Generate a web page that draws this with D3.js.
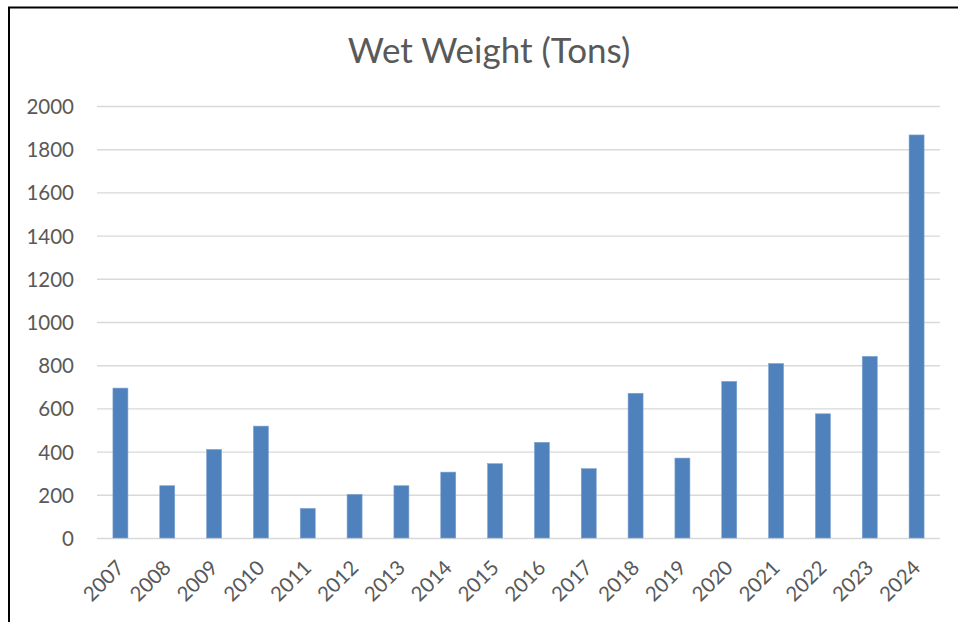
<!DOCTYPE html>
<html>
<head>
<meta charset="utf-8">
<title>Wet Weight (Tons)</title>
<script src="https://cdn.jsdelivr.net/npm/d3@7"></script>
<style>
	body { margin: 0; background: #fff; }
	svg text { font-family: Lato, "Open Sans", sans-serif; fill: #595959; }
</style>
</head>
<body>
<script>
	// data
	const years = ['2007', '2008', '2009', '2010', '2011', '2012', '2013', '2014', '2015',
		'2016', '2017', '2018', '2019', '2020', '2021', '2022', '2023', '2024'];
	const wetWeight = [694, 242, 410, 518, 137, 202, 242, 305, 344,
		443, 321, 670, 370, 725, 808, 575, 841, 1866];
	const yTicks = [0, 200, 400, 600, 800, 1000, 1200, 1400, 1600, 1800, 2000];
	const chartTitle = 'Wet Weight (Tons)';

	const W = 958, H = 622;
	const plot = { left: 97, right: 940, top: 106, bottom: 538 };

	const svg = d3.select('body').append('svg')
		.attr('width', W).attr('height', H);

	// frame of the chart area (right and bottom run off the picture)
	svg.append('rect')
		.attr('x', 9).attr('y', 7.5)
		.attr('width', W + 20).attr('height', H + 20)
		.attr('fill', '#fff')
		.attr('stroke', '#000')
		.attr('stroke-width', 2);

	const x = d3.scaleBand()
		.domain(years)
		.range([plot.left, plot.right])
		.paddingInner(0.68)
		.paddingOuter(0.34);

	const y = d3.scaleLinear()
		.domain([0, 2000])
		.range([plot.bottom, plot.top]);

	// gridlines
	svg.append('g').selectAll('line').data(yTicks).enter().append('line')
		.attr('x1', plot.left).attr('x2', plot.right)
		.attr('y1', d => y(d) + 0.5).attr('y2', d => y(d) + 0.5)
		.attr('stroke', '#d9d9d9')
		.attr('stroke-width', 1.4);

	// y axis labels
	const yAxis = d3.axisLeft(y).tickValues(yTicks).tickSize(0).tickPadding(0).tickFormat(d3.format('d'));
	const gy = svg.append('g')
		.attr('transform', 'translate(74,1)')
		.call(yAxis);
	gy.select('.domain').remove();
	gy.selectAll('text')
		.style('font-size', '20.5px')
		.style('font-family', 'Lato, sans-serif')
		.attr('fill', '#595959');

	// bars
	svg.append('g').selectAll('rect').data(wetWeight).enter().append('rect')
		.attr('x', (d, i) => x(years[i]))
		.attr('y', d => y(d))
		.attr('width', x.bandwidth())
		.attr('height', d => y(0) - y(d))
		.attr('fill', '#4f81bd')
		.attr('stroke', '#7fa3d0')
		.attr('stroke-width', 0.6);

	// x axis labels, rotated
	const xAxis = d3.axisBottom(x).tickSize(0).tickPadding(0);
	const gx = svg.append('g')
		.attr('transform', 'translate(0,' + plot.bottom + ')')
		.call(xAxis);
	gx.select('.domain').remove();
	gx.selectAll('.tick text')
		.attr('y', 0).attr('dy', 0)
		.attr('transform', 'translate(5,31) rotate(-45)')
		.style('text-anchor', 'end')
		.style('font-size', '20.5px')
		.style('font-family', 'Lato, sans-serif')
		.attr('fill', '#595959');

	// title
	svg.append('text')
		.attr('x', 489).attr('y', 63)
		.attr('text-anchor', 'middle')
		.style('font-size', '35px')
		.text(chartTitle);
</script>
</body>
</html>
